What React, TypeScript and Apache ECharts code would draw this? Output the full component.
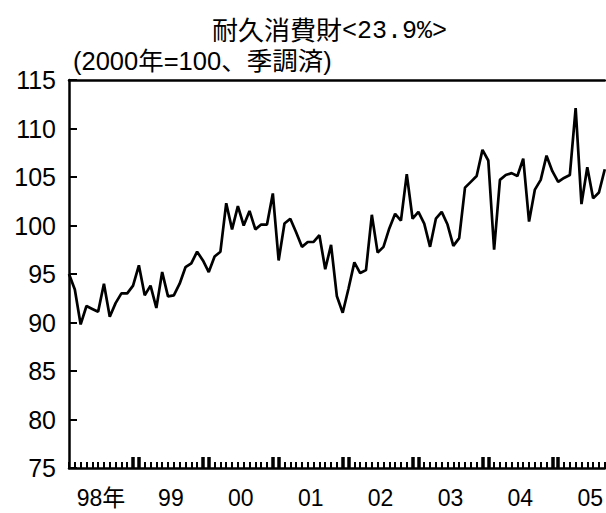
import React, { useEffect, useRef } from "react";
import * as echarts from "echarts";

// Monthly index values, Jan 1998 – Sep 2005 (2000 = 100, seasonally adjusted)
const v1998 = [95.0, 93.4, 89.8, 91.7, 91.4, 91.1, 94.0, 90.6, 92.0, 93.0, 93.0, 93.8];
const v1999 = [95.9, 92.8, 93.8, 91.5, 95.2, 92.7, 92.8, 94.0, 95.7, 96.1, 97.3, 96.4];
const v2000 = [95.2, 96.8, 97.3, 102.3, 99.6, 102.0, 100.0, 101.5, 99.6, 100.1, 100.1, 103.3];
const v2001 = [96.4, 100.2, 100.7, 99.3, 97.8, 98.3, 98.3, 99.0, 95.5, 98.0, 92.7, 91.0];
const v2002 = [93.5, 96.2, 95.1, 95.4, 101.1, 97.2, 97.8, 99.7, 101.2, 100.5, 105.3, 100.7];
const v2003 = [101.4, 100.2, 97.8, 100.7, 101.4, 100.1, 97.9, 98.7, 103.9, 104.5, 105.1, 107.8];
const v2004 = [106.7, 97.5, 104.7, 105.2, 105.4, 105.1, 106.9, 100.4, 103.7, 104.7, 107.2, 105.6];
const v2005 = [104.5, 104.9, 105.2, 112.1, 102.2, 106.0, 102.8, 103.4, 105.8];

const yearLabels = ["98年", "99", "00", "01", "02", "03", "04", "05"];
const yTicks = { min: 75, max: 115, step: 5 };

const titleMain = "耐久消費財";
const titleShare = "<23.9%>";
const subtitle = "(2000年=100、季調済)";

const FONT = "'Liberation Sans', 'Noto Sans CJK JP', sans-serif";

export default function App() {
  const ref = useRef<HTMLDivElement>(null);

  useEffect(() => {
    if (!ref.current) return;
    const chart = echarts.init(ref.current, undefined, { renderer: "svg" });

    const values = [...v1998, ...v1999, ...v2000, ...v2001, ...v2002, ...v2003, ...v2004, ...v2005];
    const data = values.map((v, i) => [i, v]);
    const last = values.length - 1;

    const monthTicks = values.map((_, i) => i);
    const majorTicks: number[] = [];
    for (let y = 1; y < yearLabels.length; y++) {
      majorTicks.push(12 * y - 1, 12 * y);
    }
    const labelPos = yearLabels.map((_, i) => 12 * i + 5.5);

    chart.setOption({
      animation: false,
      backgroundColor: "#ffffff",
      title: {
        text: `{a|${titleMain}}{b|${titleShare}}`,
        left: 212,
        top: 18,
        padding: 0,
        textStyle: {
          fontWeight: "normal",
          lineHeight: 26,
          rich: {
            a: { fontSize: 26, lineHeight: 26, fontWeight: "normal", fontFamily: FONT, color: "#000" },
            b: {
              fontSize: 25,
              lineHeight: 26,
              fontWeight: "normal",
              fontFamily: "'Liberation Mono', monospace",
              color: "#000",
            },
          },
        },
      },
      graphic: [
        {
          type: "text",
          left: 73,
          top: 48,
          style: { text: subtitle, fontSize: 25.5, lineHeight: 24, fontFamily: FONT, fill: "#000" },
        },
      ],
      grid: { left: 69, top: 80, right: 1, bottom: 45, containLabel: false },
      xAxis: [
        {
          type: "value",
          min: 0,
          max: last,
          position: "bottom",
          axisLine: { show: true, onZero: false, lineStyle: { color: "#000", width: 2.5 } },
          axisTick: {
            show: true,
            inside: true,
            length: 6,
            customValues: monthTicks,
            lineStyle: { color: "#000", width: 2 },
          },
          axisLabel: {
            show: true,
            customValues: labelPos,
            margin: 18,
            fontSize: 23,
            fontFamily: FONT,
            color: "#000",
            formatter: (v: number) => yearLabels[Math.round((v - 5.5) / 12)] ?? "",
          },
          splitLine: { show: false },
        },
        {
          type: "value",
          min: 0,
          max: last,
          position: "bottom",
          axisLine: { show: false, onZero: false },
          axisTick: {
            show: true,
            inside: true,
            length: 11,
            customValues: majorTicks,
            lineStyle: { color: "#000", width: 3.5 },
          },
          axisLabel: { show: false },
          splitLine: { show: false },
        },
        {
          type: "value",
          min: 0,
          max: last,
          position: "top",
          axisLine: { show: true, onZero: false, lineStyle: { color: "#000", width: 2.5 } },
          axisTick: { show: false },
          axisLabel: { show: false },
          splitLine: { show: false },
        },
      ],
      yAxis: {
        type: "value",
        min: yTicks.min,
        max: yTicks.max,
        interval: yTicks.step,
        axisLine: { show: true, onZero: false, lineStyle: { color: "#000", width: 2.5 } },
        axisTick: { show: true, inside: true, length: 8, lineStyle: { color: "#000", width: 2 } },
        axisLabel: { margin: 13, fontSize: 25, fontFamily: FONT, color: "#000" },
        splitLine: { show: false },
      },
      series: [
        {
          type: "line",
          data,
          xAxisIndex: 0,
          showSymbol: false,
          symbol: "none",
          lineStyle: { color: "#000", width: 2.7 },
          clip: false,
        },
      ],
    });

    return () => chart.dispose();
  }, []);

  return (
    <div
      ref={ref}
      style={{ position: "fixed", left: 0, top: 0, width: 606, height: 513, background: "#fff" }}
    />
  );
}
